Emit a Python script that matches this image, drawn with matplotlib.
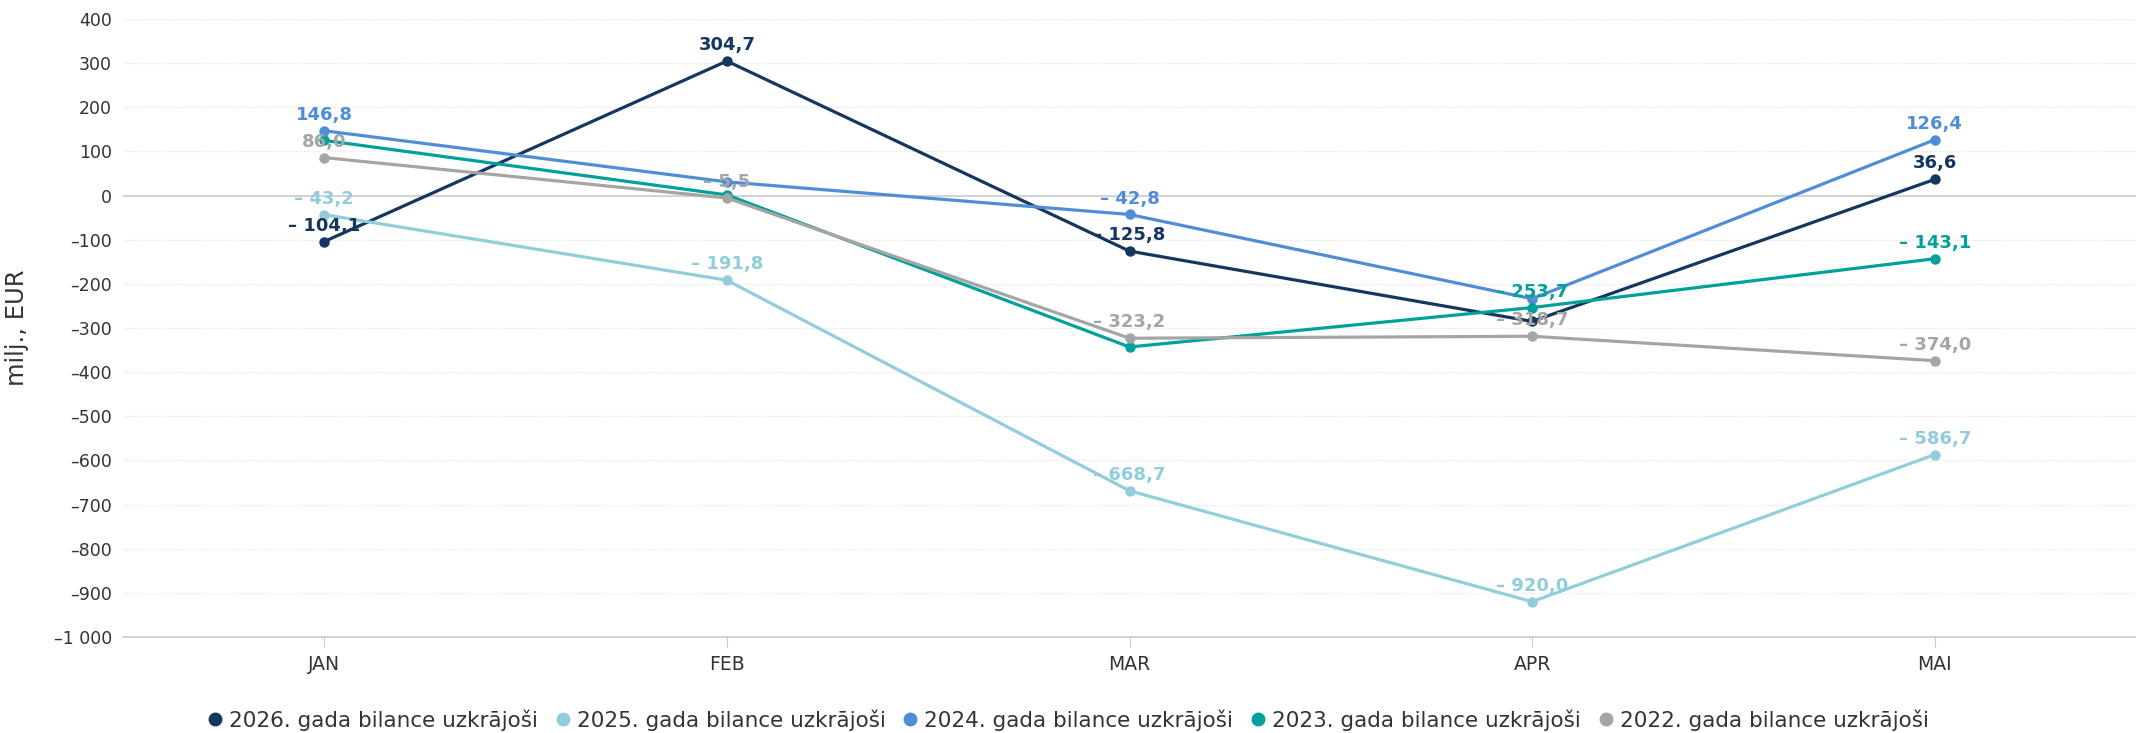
import matplotlib
matplotlib.use("Agg")
from matplotlib import pyplot as plt
from matplotlib.lines import Line2D

plt.rcParams['font.family'] = ['DejaVu Sans']

months = ["JAN", "FEB", "MAR", "APR", "MAI"]
names = ["2026. gada bilance uzkrājoši", "2025. gada bilance uzkrājoši",
         "2024. gada bilance uzkrājoši", "2023. gada bilance uzkrājoši",
         "2022. gada bilance uzkrājoši"]

y2026 = [-104.1, 304.7, -125.8, -285.0, 36.6]
y2025 = [-43.2, -191.8, -668.7, -920.0, -586.7]
y2024 = [146.8, 31.0, -42.8, -233.8, 126.4]
y2023 = [125.0, 1.5, -343.0, -253.7, -143.1]
y2022 = [86.0, -5.5, -323.2, -318.7, -374.0]

# which labels highcharts kept visible
shown2026 = [1, 1, 1, 0, 1]
shown2025 = [1, 1, 1, 1, 1]
shown2024 = [1, 0, 1, 0, 1]
shown2023 = [0, 0, 0, 1, 1]
shown2022 = [1, 1, 1, 1, 1]

colors = ["#15365e", "#92cddc", "#4f8ed7", "#00a19a", "#a5a5a5"]

series = [y2026, y2025, y2024, y2023, y2022]
shown = [shown2026, shown2025, shown2024, shown2023, shown2022]


def fmt(v):
    s = f"{abs(v):,.1f}".replace(",", " ").replace(".", ",")
    return ("– " + s) if v < 0 else s


def ytick(v, pos):
    s = f"{abs(int(v)):,}".replace(",", " ")
    return ("–" + s) if v < 0 else s


fig = plt.figure(figsize=(21.36, 7.33), dpi=100)
ax = fig.add_axes([123 / 2136, 1 - 637 / 733, 1 - 123 / 2136, (637 - 19) / 733])

x = list(range(len(months)))
for i, (ys, c) in enumerate(zip(series, colors)):
    ax.plot(x, ys, color=c, lw=2.3, marker="o", ms=6.5, zorder=3 + i, clip_on=False)
for i, (ys, c, sh) in enumerate(zip(series, colors, shown)):
    for xi, v, s in zip(x, ys, sh):
        if s:
            ax.annotate(fmt(v), (xi, v), xytext=(0, 5), textcoords="offset points",
                        ha="center", va="bottom", fontsize=13, fontweight="bold",
                        color=c, zorder=10 + i)

ax.set_xlim(-0.5, 4.5)
ax.set_ylim(-1000, 400)
ax.set_yticks(range(-1000, 401, 100))
ax.yaxis.set_major_formatter(matplotlib.ticker.FuncFormatter(ytick))
ax.set_xticks(x)
ax.set_xticklabels(months)

ax.grid(axis="y", color="#e6e6e6", lw=1, ls=(0, (1, 1)))
ax.axhline(0, color="#cccccc", lw=1.2, zorder=2)
ax.set_axisbelow(True)
for sp in ["top", "right", "left"]:
    ax.spines[sp].set_visible(False)
ax.spines["bottom"].set_color("#cccccc")
ax.spines["bottom"].set_linewidth(1.2)
ax.tick_params(axis="y", length=0, labelsize=12.5, labelcolor="#333333", pad=8)
ax.tick_params(axis="x", length=7, color="#cccccc", labelsize=13.5, labelcolor="#333333", pad=6)
ax.set_ylabel("milj., EUR", fontsize=17.5, color="#333333")
ax.yaxis.set_label_coords(-(123 - 29) / (2136 - 123), 0.5)

handles = [Line2D([], [], ls="none", marker="o", ms=9, color=c) for c in colors]
fig.legend(handles, names, loc="center", bbox_to_anchor=(0.5, 1 - 720 / 733), ncol=5,
           frameon=False, fontsize=15.5, handletextpad=0.3, columnspacing=0.8,
           handlelength=0.7, labelcolor="#333333")

fig.savefig("out.png", dpi=100)
